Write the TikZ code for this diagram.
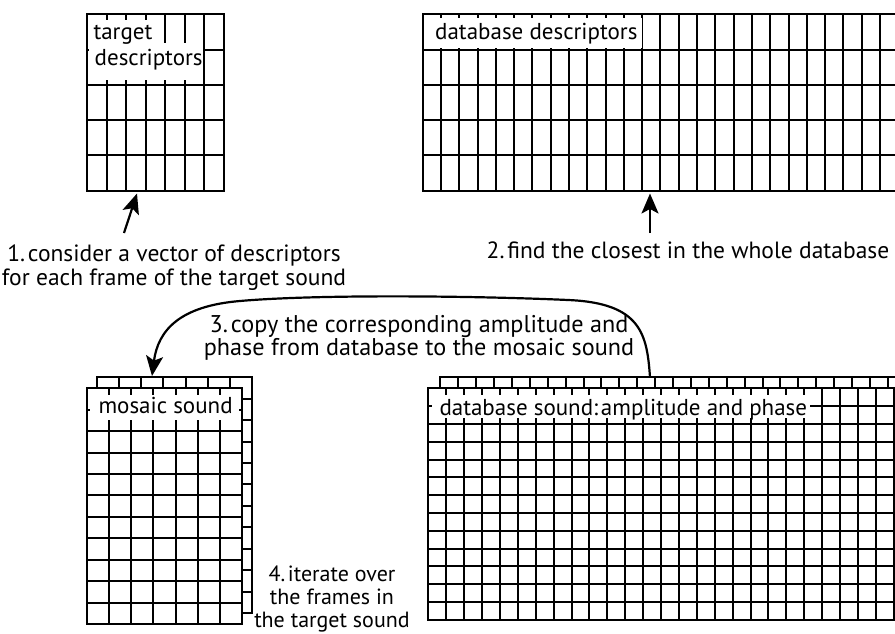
\documentclass[tikz,border=0pt]{standalone}
\usepackage{fontspec}
\setmainfont{PT Sans}
\usetikzlibrary{arrows.meta}

% one sheet of cells: x0, y0, columns, rows, cell width, cell height
\newcommand\gridsheet[6]{%
  \fill[white] (#1,#2) rectangle ++(#3*#5,#4*#6);
  \foreach \i in {0,...,#3}{\draw[gridline] (#1+\i*#5,#2) -- ++(0,#4*#6);}
  \foreach \j in {0,...,#4}{\draw[gridline] (#1,#2+\j*#6) -- ++(#3*#5,0);}
}

\tikzset{
  gridline/.style={line width=2pt, line cap=rect},
  mask/.style={fill=white},
  txt/.style={font=\fontsize{23.5}{23.5}\selectfont, inner sep=0pt},
  celllabel/.style={txt, font=\fontsize{23}{23}\selectfont, anchor=base west},
  caption/.style={txt, align=center},
  pointer/.style={line width=2.2pt, -{Stealth[length=20pt,width=17pt,inset=4.5pt]}},
}

\begin{document}
\begin{tikzpicture}[x=1pt,y=-1pt]
\useasboundingbox (0,0) rectangle (895,634);
\fill[white] (0,0) rectangle (895,634);

\begin{scope}
\clip (0,0) rectangle (895,634);

% target descriptors
\gridsheet{87.3}{14.3}{7}{5}{19.53}{35.28}
\fill[mask] (88.6,20) rectangle (160,44);
\fill[mask] (88.6,43) rectangle (203.4,80);
\node[celllabel] (tlab1) at (93.3,39.5) {target};
\node[celllabel] (tlab2) at (94.5,65.5) {descriptors};
\coordinate (tgt-bottom) at (137,193.5);

% database descriptors
\gridsheet{422.7}{14.3}{26}{5}{18.29}{35.28}
\fill[mask] (424,18.5) rectangle (641.8,48);
\node[celllabel] (dlab) at (435,40) {database descriptors};
\coordinate (db-bottom) at (650,193.5);

% mosaic sound: back sheet and front sheet
\gridsheet{97.3}{377.3}{7}{11}{22.06}{21.42}
\gridsheet{87.3}{388.3}{7}{11}{22.06}{21.42}
\fill[mask] (90,395) rectangle (239,420);
\node[celllabel] (mlab) at (98.3,413.3) {mosaic sound};
\coordinate (mosaic-top) at (152,376);

% database sound: back sheet and front sheet
\gridsheet{440.3}{377.3}{26}{13}{17.9}{17.8}
\gridsheet{428.3}{388.3}{26}{13}{17.9}{17.8}
\fill[mask] (431.5,394.5) rectangle (810,418);
\node[celllabel] (slab) at (439.3,415) {database sound:\hspace{0.12em}amplitude and phase};
\coordinate (dbsound-top) at (650,377.3);
\end{scope}

% captions
\node[caption, anchor=north] (c1) at (174,245)
  {1.\hspace{0.12em}consider a vector of descriptors\\for each frame of the target sound};
\node[caption, anchor=base] (c2) at (688,258)
  {2.\hspace{0.12em}find the closest in the whole database};
\node[caption, anchor=north, font=\fontsize{24.2}{23.5}\selectfont] (c3) at (419,315)
  {3.\hspace{0.12em}copy the corresponding amplitude and\\phase from database to the mosaic sound};
\node[caption, anchor=north, font=\fontsize{22}{23}\selectfont] (c4) at (332,566)
  {4.\hspace{0.12em}iterate over\\the frames in\\the target sound};

% connectors
\coordinate (c1-tail) at (124,233);
\coordinate (c2-tail) at (650,233);
\draw[pointer] (c1-tail) -- (tgt-bottom);
\draw[pointer] (c2-tail) -- (db-bottom);
\draw[pointer] (dbsound-top)
  .. controls (647,334) and (641,303) .. (568,300)
  .. controls (480,296) and (320,294) .. (240,301)
  .. controls (180,306) and (158,330) .. (mosaic-top);
\end{tikzpicture}
\end{document}
